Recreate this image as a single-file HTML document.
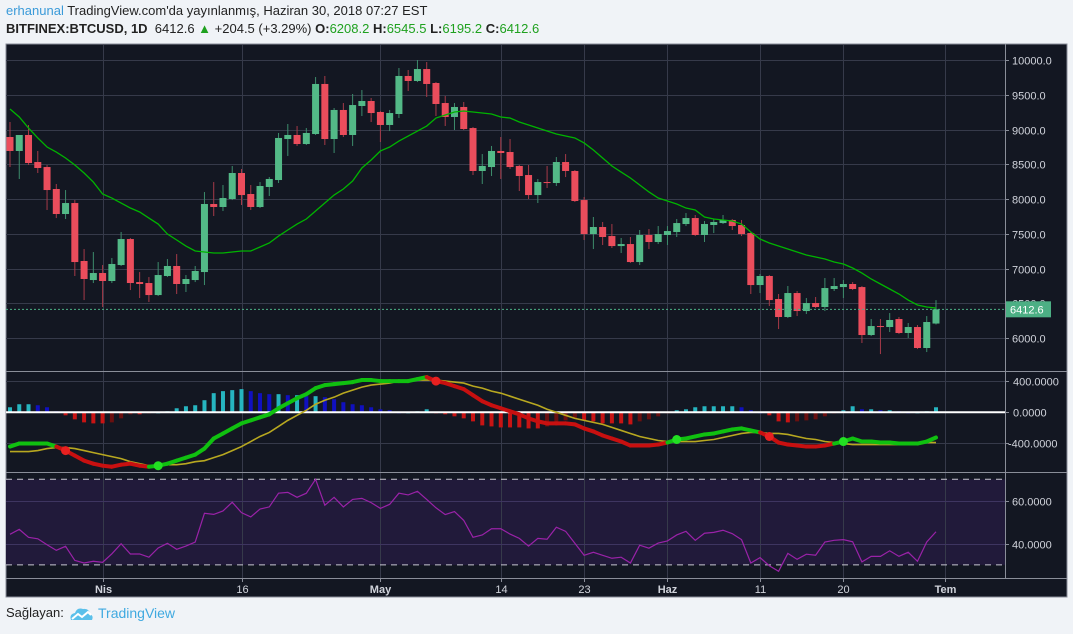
<!DOCTYPE html>
<html><head><meta charset="utf-8">
<style>
body{margin:0;width:1073px;height:634px;background:#f0f3f7;font-family:"Liberation Sans",sans-serif;overflow:hidden;position:relative}
.hdr{position:absolute;left:6px;font-size:13px;color:#222;white-space:nowrap}
.g{color:#1fa11f}
svg{position:absolute;left:0;top:0}
</style></head><body>
<div class="hdr" style="top:3px"><span style="color:#3a9ad9">erhanunal</span> TradingView.com'da yayınlanmış, Haziran 30, 2018 07:27 EST</div>
<div class="hdr" style="top:21px"><b>BITFINEX:BTCUSD, 1D</b>&nbsp; 6412.6 <span class="g">▲</span> +204.5 (+3.29%) <b>O:</b><span class="g">6208.2</span> <b>H:</b><span class="g">6545.5</span> <b>L:</b><span class="g">6195.2</span> <b>C:</b><span class="g">6412.6</span></div>
<svg id="chart" width="1073" height="634"></svg>
<div style="position:absolute;left:6px;top:605px;font-size:13px;color:#222">Sağlayan:</div>
<svg style="left:68px;top:605px" width="26" height="18"><path d="M3 15 Q1 9 7 8 Q9 2 15 4 Q21 3 22 9 Q26 11 24 15 Z" fill="#5bc0ea"/><path d="M4 14 L10 9 L14 12 L20 7 L23 10" stroke="#fff" stroke-width="2" fill="none"/></svg>
<div style="position:absolute;left:98px;top:605px;font-size:14px;color:#3fa9e0">TradingView</div>
<script>
const openP=[8892,8691,8921,8532,8460,8144,7784,7942,7108,6834,6935,6820,7050,7424,6805,6791,6618,6892,7036,6777,6834,6949,7928,7885,8000,8374,8072,7885,8173,8273,8863,8921,8791,8935,9655,8863,9281,8921,9338,9410,9252,9065,9223,9770,9698,9870,9669,9381,9180,9324,9021,8403,8460,8691,8676,8475,8345,8057,8244,8230,8532,8403,7985,7496,7597,7467,7323,7352,7093,7482,7381,7482,7525,7640,7726,7482,7626,7654,7698,7626,7510,6762,6892,6561,6302,6647,6388,6503,6446,6705,6733,6777,6733,6043,6172,6158,6273,6072,6158,5856,6208];
const highP=[9108,8921,9065,8691,8489,8216,8129,7985,7280,7237,7050,7151,7525,7439,6949,6877,7093,7136,7208,6906,7036,8100,8244,8201,8475,8432,8201,8244,8316,8950,9079,9050,9021,9755,9770,9309,9381,9511,9568,9453,9266,9281,9885,9856,10000,9971,9683,9482,9381,9396,9036,8647,8763,8892,8863,8489,8489,8288,8475,8604,8647,8417,8029,7741,7669,7640,7439,7453,7554,7568,7611,7611,7712,7798,7770,7683,7712,7770,7710,7698,7525,6921,6906,6633,6748,6676,6575,6590,6863,6863,6834,6805,6748,6273,6273,6359,6302,6216,6187,6316,6545];
const lowP=[8460,8288,8489,8374,7842,7726,7712,6892,6546,6791,6446,6791,7036,6690,6575,6518,6604,6877,6633,6662,6805,6762,7755,7827,7985,7913,7842,7870,8043,8230,8619,8763,8777,8921,8777,8662,8892,8763,9194,9108,8820,8978,9165,9554,9683,9468,9194,9050,8993,8993,8345,8216,8331,8288,8432,8115,8000,7942,8158,8187,8316,7957,7410,7280,7338,7295,7223,7080,7050,7280,7352,7338,7453,7611,7467,7381,7510,7640,7554,7467,6633,6647,6460,6129,6287,6316,6345,6431,6388,6676,6575,6690,5928,6028,5769,6086,6057,6000,5841,5798,6195];
const closeP=[8691,8921,8518,8446,8129,7784,7942,7093,6849,6935,6820,7065,7424,6791,6777,6618,6906,7036,6777,6849,6964,7928,7885,8014,8374,8057,7885,8187,8288,8878,8921,8791,8950,9655,8863,9281,8921,9352,9410,9237,9065,9237,9770,9698,9870,9655,9367,9180,9324,9007,8403,8475,8691,8662,8460,8331,8057,8244,8230,8532,8403,7971,7496,7597,7453,7323,7352,7093,7482,7381,7496,7539,7654,7726,7482,7640,7669,7698,7611,7496,6762,6892,6546,6302,6647,6388,6503,6446,6719,6748,6777,6705,6043,6172,6158,6259,6072,6158,5856,6230,6412.6];
const maP=[9295,9180,9021,8878,8748,8676,8590,8489,8374,8244,8072,8014,7942,7870,7813,7726,7640,7496,7410,7323,7252,7237,7223,7223,7237,7252,7252,7309,7367,7467,7554,7640,7712,7827,7942,8057,8144,8259,8446,8561,8691,8748,8834,8906,8978,9050,9165,9209,9252,9266,9252,9237,9223,9180,9165,9108,9065,9021,8978,8935,8906,8878,8806,8705,8590,8475,8388,8302,8201,8101,8014,7971,7928,7870,7842,7741,7712,7698,7683,7640,7525,7424,7367,7323,7280,7237,7194,7165,7136,7093,7065,7007,6935,6849,6777,6705,6633,6546,6475,6446,6431];
const macdV=[-442,-403,-403,-403,-403,-442,-494,-559,-624,-663,-689,-702,-676,-663,-689,-702,-689,-663,-624,-585,-546,-468,-338,-273,-208,-143,-104,-65,-26,52,117,182,234,312,351,364,377,390,416,416,403,403,403,403,429,455,403,377,338,299,221,143,91,52,13,-26,-78,-117,-143,-143,-143,-156,-208,-247,-299,-338,-377,-429,-429,-429,-416,-390,-351,-338,-312,-286,-273,-247,-221,-208,-234,-260,-312,-390,-416,-429,-442,-442,-429,-403,-377,-338,-377,-377,-390,-390,-403,-403,-403,-377,-325];
const signalV=[-507,-507,-507,-494,-468,-455,-455,-468,-494,-520,-546,-572,-598,-637,-663,-689,-689,-676,-676,-663,-637,-624,-585,-546,-494,-442,-377,-312,-260,-182,-104,-39,26,104,156,195,247,286,325,351,364,377,403,403,416,416,416,403,390,377,338,312,273,247,208,169,130,91,39,0,-39,-78,-104,-130,-156,-195,-234,-273,-312,-338,-364,-377,-377,-377,-377,-364,-351,-325,-299,-273,-260,-260,-273,-273,-286,-312,-338,-351,-377,-390,-403,-416,-416,-416,-416,-416,-416,-403,-403,-390,-390];
const rsiV=[44.3,46.6,42.9,42.2,39.4,36.8,38.7,32.1,30.9,31.7,31.2,35.2,39.9,35.1,35.1,33.6,37.9,40.1,37.3,38.8,40.7,54.1,53.6,55.2,59.3,54.4,52.4,56.1,57.1,63.5,63.9,61.6,63.5,70.0,57.9,61.6,57.1,60.6,61.1,59.1,56.4,58.3,63.5,62.7,64.4,60.6,56.7,53.5,54.9,50.8,42.9,44.0,46.9,46.9,44.4,42.4,38.8,42.4,42.0,47.6,45.7,40.1,34.5,35.9,34.5,33.1,33.6,30.9,39.2,37.8,40.2,41.2,44.0,45.7,41.5,44.8,45.2,46.2,44.6,41.8,30.9,33.4,29.6,27.0,35.4,32.6,35.0,34.5,40.7,41.5,41.8,40.8,31.4,34.0,34.0,36.6,34.0,35.9,31.7,40.7,45.5];
const priceTicks=[10000,9500,9000,8500,8000,7500,7000,6500,6000];
const macdTicks=[400,0,-400];
const rsiTicks=[60,40];
const dateLabels=["Nis","16","May","14","23","Haz","11","20","Tem"];
const dateIdx=[10,25,40,53,62,71,81,90,101];
const boldLabels=["Nis","May","Haz","Tem"];

const NS="http://www.w3.org/2000/svg";
const svg=document.getElementById('chart');
function el(t,a,p){const e=document.createElementNS(NS,t);for(const k in a)e.setAttribute(k,a[k]);(p||svg).appendChild(e);return e;}
const L=6,R=1005,X0=10,DX=9.26;
const xS=i=>X0+DX*i;
const yP=p=>60+(10000-p)*0.0695;
const yM=v=>412.3-v*0.0775;
const yR=v=>500.7+(60-v)*2.14;

let f=el('rect',{x:6,y:44,width:1061,height:553,fill:'#131722',stroke:'#8a8e99','stroke-width':1});


let band=el('rect',{x:L,y:yR(70),width:R-L,height:yR(30)-yR(70),fill:'#211a3a'});


dateIdx.forEach((d,k)=>{const gx=Math.round(xS(d))+0.5;
 const g=el('line',{x1:gx,x2:gx,y1:45,y2:578,stroke:'#363a4a','stroke-width':1});
 
 
 const t=el('text',{x:gx,y:593,'text-anchor':'middle','font-size':11,fill:'#d0d3db','font-weight':boldLabels.includes(dateLabels[k])?'bold':'normal'});
 t.textContent=dateLabels[k];
 
 
 el('line',{x1:gx,x2:gx,y1:578,y2:582,stroke:'#8a8e99'});
});
priceTicks.forEach(p=>{const y=Math.round(yP(p))+0.5;
 const g=el('line',{x1:L,x2:R,y1:y,y2:y,stroke:'#363a4a'});
 
 
 el('line',{x1:R,x2:R+4,y1:y,y2:y,stroke:'#8a8e99'});
 const t=el('text',{x:1012,y:y+4,'font-size':11,fill:'#d0d3db'});t.textContent=p.toFixed(1);
 
 
});
macdTicks.forEach(v=>{const y=Math.round(yM(v))+0.5;
 if(v!==0){const g=el('line',{x1:L,x2:R,y1:y,y2:y,stroke:'#363a4a'});
 
 }
 el('line',{x1:R,x2:R+4,y1:y,y2:y,stroke:'#8a8e99'});
 const t=el('text',{x:v<0?1008:1013,y:y+4,'font-size':11,fill:'#d0d3db'});t.textContent=v.toFixed(4);
 
 
});
rsiTicks.forEach(v=>{const y=Math.round(yR(v))+0.5;
 const g=el('line',{x1:L,x2:R,y1:y,y2:y,stroke:'#3e3560'});
 
 
 el('line',{x1:R,x2:R+4,y1:y,y2:y,stroke:'#8a8e99'});
 const t=el('text',{x:1012,y:y+4,'font-size':11,fill:'#d0d3db'});t.textContent=v.toFixed(4);
 
 
});
[70,30].forEach(v=>{const l=el('line',{x1:L,x2:R,y1:yR(v),y2:yR(v),stroke:'#c8c8d0','stroke-dasharray':'6,5'});
 
 });
[371.5,472.5,578.5].forEach(y=>{const s=el('line',{x1:L,x2:1067,y1:y,y2:y,stroke:'#8a8e99'});
 
 });
el('line',{x1:R+0.5,x2:R+0.5,y1:44,y2:578,stroke:'#8a8e99'});

const cg=el('g',{});


for(let i=0;i<openP.length;i++){
 const up=closeP[i]>=openP[i];const x=xS(i);
 const w=el('line',{x1:x,x2:x,y1:yP(highP[i]),y2:yP(lowP[i]),stroke:up?'#3d8c6c':'#a63a48','stroke-width':1},cg);
 
 
 const t=yP(Math.max(openP[i],closeP[i])),b=yP(Math.min(openP[i],closeP[i]));
 const r=el('rect',{x:x-3.5,y:t,width:7,height:Math.max(1,b-t),fill:up?'#53b987':'#eb4d5c'},cg);
 
 
}
let ma=el('polyline',{points:maP.map((v,i)=>xS(i)+','+yP(v)).join(' '),fill:'none',stroke:'#00b400','stroke-width':1.3});


const lp=closeP[closeP.length-1];
let pl=el('line',{x1:L,x2:R,y1:yP(lp),y2:yP(lp),stroke:'#4caf84','stroke-dasharray':'2,2'});


let tag=el('rect',{x:R+1,y:yP(lp)-8,width:45,height:16,fill:'#4caf84'});


let tt=el('text',{x:R+5,y:yP(lp)+4,'font-size':11,fill:'#fff'});tt.textContent=lp.toFixed(1);



for(let i=0;i<macdV.length;i++){
 const h=macdV[i]-signalV[i];const ph=i?macdV[i-1]-signalV[i-1]:h;
 let c=h>=0?(h>=ph?'#26b5c0':'#1010c0'):(h<=ph?'#c81414':'#6a1010');
 const y0=yM(0),y1=yM(h);
 const r=el('rect',{x:xS(i)-2,y:Math.min(y0,y1),width:4,height:Math.max(1,Math.abs(y1-y0)),fill:c});
 
 
}
let z=el('line',{x1:L,x2:R,y1:yM(0),y2:yM(0),stroke:'#ffffff','stroke-width':2});


let sg=el('polyline',{points:signalV.map((v,i)=>xS(i)+','+yM(v)).join(' '),fill:'none',stroke:'#b8a820','stroke-width':1.6});


for(let i=0;i<macdV.length-1;i++){
 const c=macdV[i+1]>=signalV[i+1]?'#10c010':'#c81010';
 const s=el('line',{x1:xS(i),y1:yM(macdV[i]),x2:xS(i+1),y2:yM(macdV[i+1]),stroke:c,'stroke-width':4,'stroke-linecap':'round'});
 
 
}
for(let i=1;i<macdV.length;i++){
 const a=macdV[i-1]>=signalV[i-1],b=macdV[i]>=signalV[i];
 if(a!==b){const d=el('circle',{cx:xS(i),cy:yM(macdV[i]),r:4.5,fill:b?'#22e022':'#e82020'});
 
 }
}
let rl=el('polyline',{points:rsiV.map((v,i)=>xS(i)+','+yR(v)).join(' '),fill:'none',stroke:'#9a22a8','stroke-width':1.2});


</script>
</body></html>
